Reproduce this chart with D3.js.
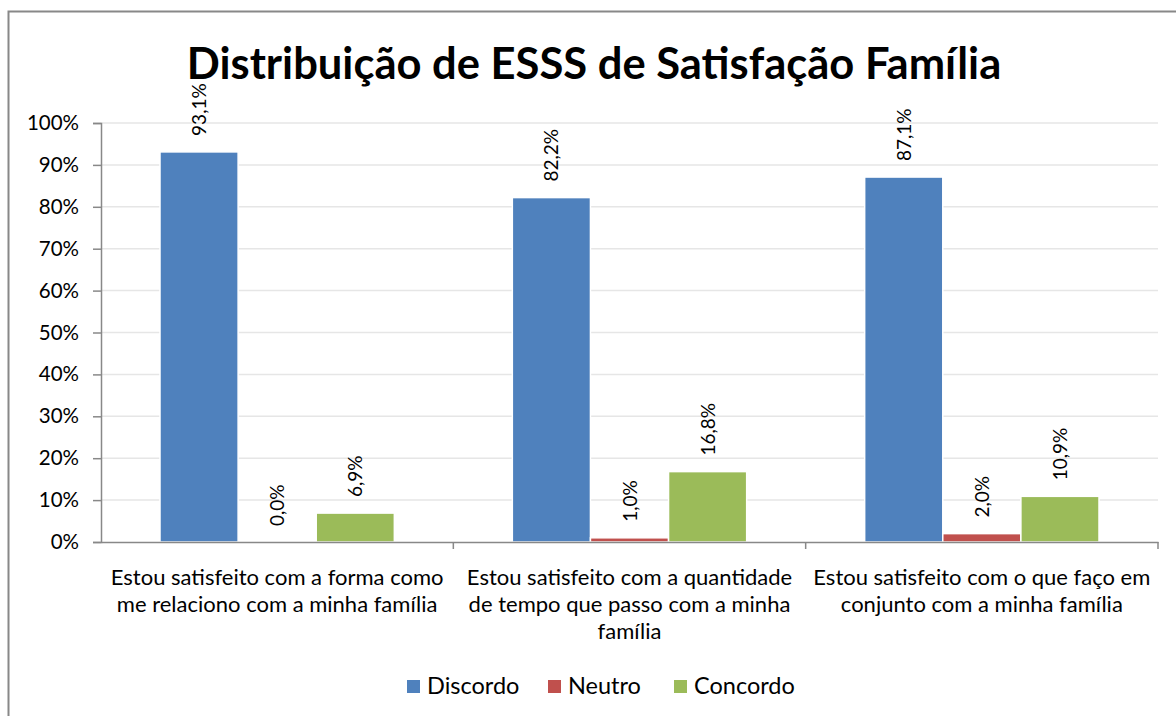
<!DOCTYPE html>
<html>
<head>
<meta charset="utf-8">
<script src="https://cdn.jsdelivr.net/npm/d3@7"></script>
<style>
  body { margin: 0; background: #fff; }
  text { font-family: Lato, "Open Sans", sans-serif; fill: #000; }
</style>
</head>
<body>
<div id="chart-area"></div>
<script>
// data
var categories = [
  ["Estou satisfeito com a forma como", "me relaciono com a minha família"],
  ["Estou satisfeito com a quantidade", "de tempo que passo com a minha", "família"],
  ["Estou satisfeito com o que faço em", "conjunto com a minha família"]
]
var series = ["Discordo", "Neutro", "Concordo"]
var discordo = [93.1, 82.2, 87.1]
var neutro = [0.0, 1.0, 2.0]
var concordo = [6.9, 16.8, 10.9]
var yTicks = [0, 10, 20, 30, 40, 50, 60, 70, 80, 90, 100]
var colors = ["#4F81BD", "#C0504D", "#9BBB59"]

var values = [discordo, neutro, concordo]
var width = 1176
var height = 716
var margin = {top: 123, right: 18, bottom: 174, left: 101}
var plotW = width - margin.left - margin.right
var plotH = height - margin.top - margin.bottom

var svg = d3.select("#chart-area")
  .append("svg")
  .attr("width", width)
  .attr("height", height)

// outer frame
svg.append("rect")
  .attr("x", 8.5).attr("y", 11.5)
  .attr("width", 1300).attr("height", 900)
  .attr("fill", "none").attr("stroke", "#888").attr("stroke-width", 2)

svg.append("text")
  .attr("x", 594).attr("y", 79)
  .attr("text-anchor", "middle")
  .attr("font-size", "43.5px")
  .attr("font-weight", "bold")
  .text("Distribuição de ESSS de Satisfação Família")

var g = svg.append("g")
  .attr("transform", `translate(${margin.left}, ${margin.top})`)

var y = d3.scaleLinear().domain([0, 100]).range([plotH, 0])
var x = d3.scaleBand().domain(d3.range(categories.length)).range([0, plotW])
  .paddingInner(0).paddingOuter(0)
var xs = d3.scaleBand().domain(d3.range(series.length))
  .range([59, x.bandwidth() - 59])

// gridlines
g.append("g").selectAll("line")
  .data(yTicks.slice(1))
  .enter().append("line")
  .attr("x1", 0).attr("x2", plotW)
  .attr("y1", d => y(d)).attr("y2", d => y(d))
  .attr("stroke", "#e6e6e6").attr("stroke-width", 1.5)

var leftAxis = d3.axisLeft(y).tickValues(yTicks).tickSize(8).tickPadding(14)
  .tickFormat(d => d + "%")
var ya = g.append("g").attr("class", "left axis").call(leftAxis)
ya.select(".domain").attr("stroke", "#888").attr("stroke-width", 1.5)
ya.selectAll(".tick line").attr("stroke", "#888").attr("stroke-width", 1.5)
ya.selectAll(".tick text").attr("font-size", "20.5px").attr("font-family", "Lato")

// bars
var groups = g.selectAll(".grp")
  .data(categories)
  .enter().append("g")
  .attr("class", "grp")
  .attr("transform", (d, i) => `translate(${x(i)}, 0)`)

series.forEach((s, si) => {
  groups.append("rect")
    .attr("x", (d, i) => xs(si))
    .attr("y", (d, i) => y(values[si][i]))
    .attr("width", xs.bandwidth())
    .attr("height", (d, i) => plotH - y(values[si][i]))
    .attr("fill", colors[si])
    .attr("stroke", "#fff").attr("stroke-width", 1.5)
  groups.append("text")
    .attr("transform", (d, i) =>
      `translate(${xs(si) + xs.bandwidth() / 2 + 7}, ${y(values[si][i]) - 16}) rotate(-90)`)
    .attr("font-size", "19px")
    .text((d, i) => values[si][i].toFixed(1).replace(".", ",") + "%")
})

// bottom axis
var bottomAxis = d3.axisBottom(x).tickValues([]).tickSizeOuter(0)
var xa = g.append("g").attr("transform", `translate(0, ${plotH})`).call(bottomAxis)
xa.select(".domain").attr("stroke", "#888").attr("stroke-width", 1.5)
xa.selectAll(".sep")
  .data(d3.range(1, categories.length + 1))
  .enter().append("line")
  .attr("class", "sep")
  .attr("x1", i => x.step() * i).attr("x2", i => x.step() * i)
  .attr("y1", 0).attr("y2", 7)
  .attr("stroke", "#888").attr("stroke-width", 1.5)

groups.each(function(lines, i) {
  var t = d3.select(this).append("text")
    .attr("text-anchor", "middle")
    .attr("font-size", "22px")
  lines.forEach((ln, li) => {
    t.append("tspan")
      .attr("x", x.bandwidth() / 2)
      .attr("y", plotH + 43 + li * 27)
      .text(ln)
  })
})

// legend
var legendX = [407, 548, 674]
var legend = svg.append("g")
series.forEach((s, si) => {
  legend.append("rect")
    .attr("x", legendX[si]).attr("y", 680)
    .attr("width", 13).attr("height", 13)
    .attr("fill", colors[si])
  legend.append("text")
    .attr("x", legendX[si] + 20).attr("y", 694)
    .attr("font-size", "23.5px")
    .text(s)
})
</script>
</body>
</html>
